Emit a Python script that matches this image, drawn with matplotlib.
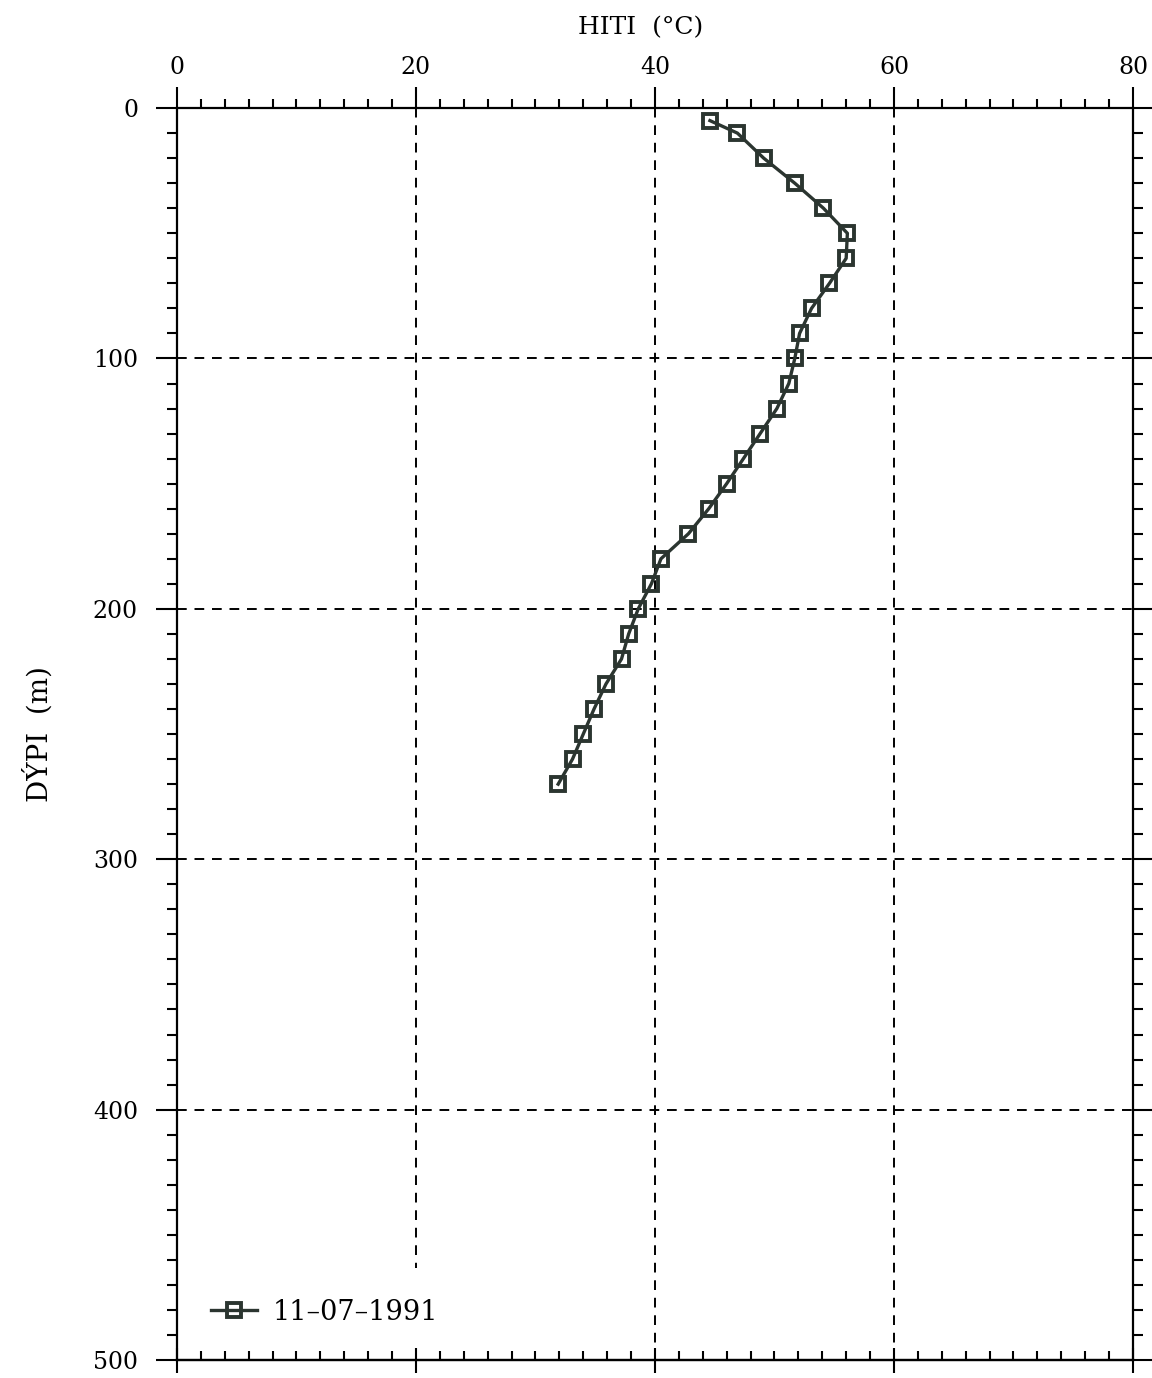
import numpy as np
import matplotlib
matplotlib.use('Agg')
import matplotlib.pyplot as plt

# temperature profile (depth in m, temperature in C)
depth = [5, 10, 20, 30, 40, 50, 60, 70, 80, 90, 100, 110, 120, 130, 140,
         150, 160, 170, 180, 190, 200, 210, 220, 230, 240, 250, 260, 270]
temp = [44.6, 46.9, 49.1, 51.7, 54.1, 56.1, 56.0, 54.6, 53.1, 52.1, 51.7,
        51.2, 50.2, 48.8, 47.4, 46.0, 44.5, 42.8, 40.5, 39.7, 38.6, 37.8,
        37.2, 35.9, 34.9, 34.0, 33.1, 31.9]
label = '11\u201307\u20131991'

xmajor = [0, 20, 40, 60, 80]
ymajor = [0, 100, 200, 300, 400, 500]

plt.rcParams['font.family'] = 'DejaVu Serif'

fig = plt.figure(figsize=(11.52, 13.78), dpi=100)
ax = fig.add_axes([0.1536, 0.01306, 0.8299, 0.9085])

col = '#2b3530'
ax.plot(temp, depth, '-', color=col, lw=2.4, marker='s', ms=10.5,
        mfc='none', mec=col, mew=2.8, label=label, zorder=5)

ax.set_xlim(0, 80)
ax.set_ylim(500, 0)

ax.xaxis.set_ticks_position('top')
ax.set_xticks(xmajor)
ax.set_xticks(np.arange(0, 81, 2), minor=True)
ax.set_yticks(ymajor)
ax.set_yticks(np.arange(0, 501, 10), minor=True)

ax.tick_params(axis='x', which='major', top=True, bottom=False, direction='out',
               length=15, width=1.5, pad=6, labelsize=17)
ax.tick_params(axis='x', which='minor', top=True, bottom=False, direction='out',
               length=6.5, width=1.5)
ax.tick_params(axis='y', which='major', left=True, right=True, direction='out',
               length=15, width=1.5, pad=13, labelsize=17)
ax.tick_params(axis='y', which='minor', left=True, right=True, direction='out',
               length=7.5, width=1.5)

# bottom axis: ticks pointing inward
bx = ax.secondary_xaxis('bottom')
bx.set_xticks(xmajor)
bx.set_xticks(np.arange(0, 81, 2), minor=True)
bx.tick_params(which='major', direction='inout', length=18, width=1.5,
               labelbottom=False)
bx.tick_params(which='minor', direction='in', length=6.5, width=1.5)
bx.spines['bottom'].set_linewidth(1.6)
bx.set_zorder(6)

for sp in ax.spines.values():
    sp.set_linewidth(1.6)
    sp.set_zorder(6)

for x in xmajor[1:-1]:
    ax.axvline(x, color='black', ls=(0, (5, 4)), lw=1.4, zorder=1)
for y in ymajor[1:-1]:
    ax.axhline(y, color='black', ls=(0, (5, 4)), lw=1.4, zorder=1)

fig.text(0.556, 0.980, 'HITI  (\u00b0C)', ha='center', va='center', fontsize=18)
fig.text(0.033, 0.467, 'D\u00ddPI  (m)', ha='center', va='center', rotation=90,
         fontsize=20)

leg = ax.legend(loc='lower left', fontsize=19.5, frameon=True, framealpha=1,
                edgecolor='none', facecolor='white', fancybox=False,
                handlelength=1.7, borderaxespad=0.15, borderpad=1.12,
                handletextpad=0.55)
leg.set_zorder(2)

fig.savefig('out.png', dpi=100)
